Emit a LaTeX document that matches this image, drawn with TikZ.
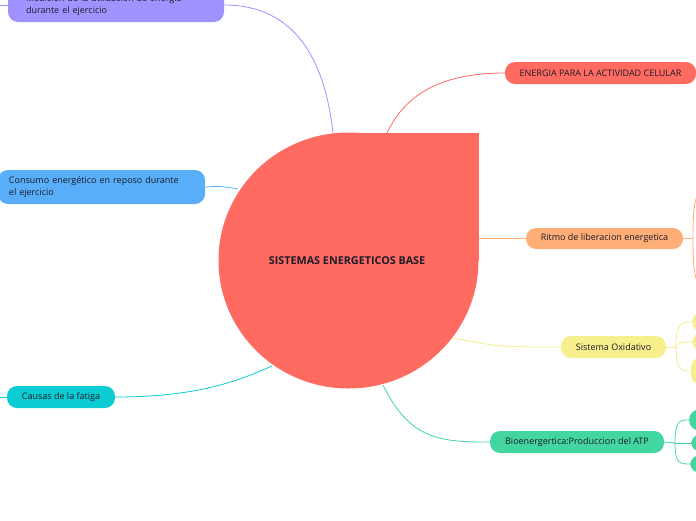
\documentclass[tikz,border=0pt]{standalone}
\usepackage{fontspec}
\setmainfont{Open Sans}
\definecolor{cred}{HTML}{FF6A61}
\definecolor{cpurple}{HTML}{A092FF}
\definecolor{cblue}{HTML}{58AEF8}
\definecolor{corange}{HTML}{FFAE78}
\definecolor{cyellow}{HTML}{F7EE8C}
\definecolor{cgreen}{HTML}{44D6A1}
\definecolor{cteal}{HTML}{0CCBD2}
\definecolor{ctext}{HTML}{1C1C2A}
\tikzset{
  box/.style={rounded corners=10pt, minimum height=22pt, inner sep=0pt, font=\fontsize{9}{12}\selectfont, text=ctext},
  leaf/.style={rounded corners=10pt, minimum width=60pt, inner sep=0pt},
  conn/.style={line width=0.8pt},
}
\begin{document}
\begin{tikzpicture}[x=1pt,y=-1pt]
\useasboundingbox (0,0) rectangle (696,520);
% central teardrop
\fill[cred] (348.5,260.5) ellipse [x radius=130, y radius=128];
\fill[cred] (348.5,132.5) rectangle (478.5,260.5);
\node[font=\fontsize{10.8}{12}\selectfont\bfseries, text=ctext] (c) at (347,261) {SISTEMAS ENERGETICOS BASE};
\coordinate (cP) at (333,133);
\coordinate (cR) at (387,133);
\coordinate (cO) at (478.5,238.5);
\coordinate (cY) at (453,338);
\coordinate (cG) at (383,385);
\coordinate (cB) at (238,189);
\coordinate (cT) at (272,366);

% boxes
\node[box, fill=cpurple, minimum width=216pt, minimum height=34pt, text width=180pt, align=left] (p) at (116,5) {Medición de la utilización de energía\\durante el ejercicio};
\node[box, fill=cblue, minimum width=207pt, minimum height=34pt, text width=185pt, align=left] (b) at (101.5,187) {Consumo energético en reposo durante\\el ejercicio};
\node[box, fill=cred, minimum width=191pt] (r) at (600.5,73) {ENERGIA PARA LA ACTIVIDAD CELULAR};
\node[box, fill=corange, minimum width=157pt, minimum height=21pt] (o) at (604.5,238.5) {Ritmo de liberacion energetica};
\node[box, fill=cyellow, minimum width=105pt] (y) at (613.5,347) {Sistema Oxidativo};
\node[box, fill=cgreen, minimum width=174pt] (g) at (577,442) {Bioenergertica:Produccion del ATP};
\node[box, fill=cteal, minimum width=108pt] (t) at (61,397) {Causas de la fatiga};

% partially visible children
\node[leaf, fill=cyellow, minimum height=20pt, anchor=west] (y1) at (692,322) {};
\node[leaf, fill=cyellow, minimum height=18pt, anchor=west] (y2) at (692,342) {};
\node[leaf, fill=cyellow, minimum height=28pt, anchor=west] (y3) at (691,371) {};
\node[leaf, fill=cgreen, minimum height=21pt, anchor=west] (g1) at (689,420) {};
\node[leaf, fill=cgreen, minimum height=18pt, anchor=west] (g2) at (691,443) {};
\node[leaf, fill=cgreen, minimum height=18pt, anchor=west] (g3) at (690,464) {};
\coordinate (oU) at (702,190);
\coordinate (oD) at (702,288);
\coordinate (pL) at (-5,5);
\coordinate (tL) at (-5,397);

% connectors from centre
\draw[conn, cpurple] (p.east) .. controls (295,5) and (325,60) .. (cP);
\draw[conn, cred] (r.west) .. controls (440,73) and (405,95) .. (cR);
\draw[conn, corange] (cO) -- (o.west);
\draw[conn, cyellow] (cY) .. controls (500,347) .. (y.west);
\draw[conn, cgreen] (cG) .. controls (410,440) and (440,442) .. (g.west);
\draw[conn, cblue] (b.east) .. controls (220,186) .. (cB);
\draw[conn, cteal] (t.east) .. controls (200,397) and (240,380) .. (cT);
\draw[conn, cpurple] (pL) -- (p.west);
\draw[conn, cteal] (tL) -- (t.west);

% right branches
\coordinate (oj) at (693,238.5);
\draw[conn, corange] (o.east) -- (oj);
\draw[conn, corange] (oj) .. controls (693,205) and (695,195) .. (oU);
\draw[conn, corange] (oj) .. controls (693,272) and (695,282) .. (oD);
\coordinate (yj) at (676,347);
\draw[conn, cyellow] (y.east) -- (yj);
\draw[conn, cyellow] (yj) .. controls (676,323) and (682,322) .. (y1.west);
\draw[conn, cyellow] (yj) .. controls (680,342) .. (y2.west);
\draw[conn, cyellow] (yj) .. controls (676,371) and (682,371) .. (y3.west);
\coordinate (gj) at (675,443);
\draw[conn, cgreen] (g.east) -- (gj);
\draw[conn, cgreen] (gj) .. controls (675,420) and (680,420) .. (g1.west);
\draw[conn, cgreen] (gj) -- (g2.west);
\draw[conn, cgreen] (gj) .. controls (675,464) and (680,464) .. (g3.west);
\end{tikzpicture}
\end{document}
